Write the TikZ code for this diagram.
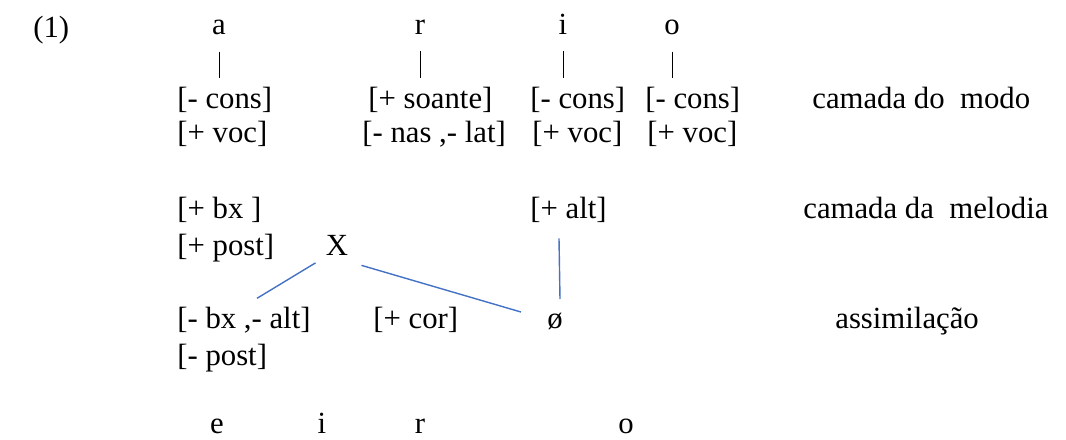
\documentclass[tikz,border=0pt]{standalone}
\usepackage{fontspec}
\setmainfont{Liberation Serif}
\usetikzlibrary{positioning}
\definecolor{linkblue}{RGB}{68,114,196}

\begin{document}
\begin{tikzpicture}[x=0.2mm, y=-0.2mm,
  feat/.style={font=\fontsize{17.5}{20}\selectfont, inner sep=0pt, anchor=base west},
  seg/.style={font=\fontsize{17.5}{20}\selectfont, inner sep=0pt, anchor=base},
  bar/.style={line width=0.5pt, shorten <=0.34cm, shorten >=0.16cm},
  link/.style={draw=linkblue, line width=0.8pt}]
  \useasboundingbox (0,0) rectangle (1066,439);
  % top tier: the word
  \node[feat] (num) at (33,37) {(1)};
  \node[seg] (a1) at (219,34) {a};
  \node[seg] (r1) at (420,34) {r};
  \node[seg] (i1) at (563,34) {i};
  \node[seg] (o1) at (672,34) {o};
  % camada do modo
  \node[feat] (consA) at (177,108) {[- cons]};
  \node[feat] (vocA)  at (177,142) {[+ voc]};
  \node[feat] (soan)  at (368,108) {[+ soante]};
  \node[feat] (naslat) at (362,142) {[- nas ,- lat]};
  \node[feat] (consI) at (530,108) {[- cons]};
  \node[feat] (vocI)  at (532,142) {[+ voc]};
  \node[feat] (consO) at (645,108) {[- cons]};
  \node[feat] (vocO)  at (647,142) {[+ voc]};
  \node[feat] (modo)  at (812,108) {camada do\ \ modo};
  % camada da melodia
  \node[feat] (bx)    at (177,218) {[+ bx ]};
  \node[feat] (post)  at (177,255) {[+ post]};
  \node[seg]  (X)     at (337,255) {X};
  \node[feat] (alt)   at (530,218) {[+ alt]};
  \node[feat] (melo)  at (803,218) {camada da\ \ melodia};
  % assimilacao
  \node[feat] (bxalt) at (177,328) {[- bx ,- alt]};
  \node[feat] (mpost) at (177,365) {[- post]};
  \node[feat] (cor)   at (373,328) {[+ cor]};
  \node[seg]  (phi)   at (555,328) {ø};
  \node[feat] (assim) at (835,328) {assimilação};
  % output
  \node[seg] (e2) at (217,433) {e};
  \node[seg] (i2) at (322,433) {i};
  \node[seg] (r2) at (420,433) {r};
  \node[seg] (o2) at (626,433) {o};
  % ligacoes
  \draw[bar] (a1.south) -- (a1.south |- consA.north);
  \draw[bar] (r1.south) -- (r1.south |- soan.north);
  \draw[bar] (i1.south) -- (i1.south |- consI.north);
  \draw[bar] (o1.south) -- (o1.south |- consO.north);
  \draw[link] ([xshift=-0.2cm,yshift=-0.15cm]X.south west) -- ([xshift=1.6cm,yshift=0.16cm]bxalt.north west);
  \draw[link] ([xshift=0.26cm,yshift=-0.2cm]X.south east) -- ([xshift=-0.52cm,yshift=0.32cm]phi.base west);
  \draw[link] ([xshift=0.08cm,yshift=-0.32cm]phi.base |- alt.south) -- ([xshift=0.1cm,yshift=0.58cm]phi.base);
\end{tikzpicture}
\end{document}
